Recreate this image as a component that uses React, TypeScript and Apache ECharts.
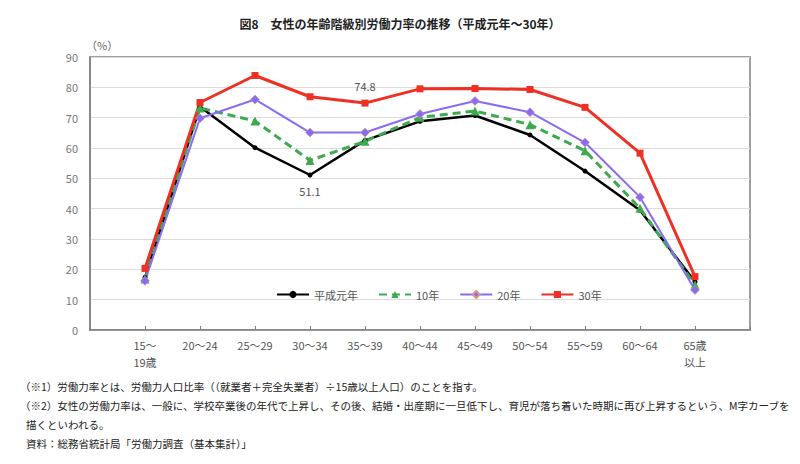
import React, { useEffect, useRef } from "react";
import * as echarts from "echarts";

const categories = ["15～\n19歳", "20～24", "25～29", "30～34", "35～39", "40～44", "45～49", "50～54", "55～59", "60～64", "65歳\n以上"];
const seriesNames = ["平成元年", "10年", "20年", "30年"];
const heisei1 = [17.3, 73.6, 60.1, 51.1, 62.5, 68.8, 70.7, 64.3, 52.4, 39.5, 15.9];
const heisei10 = [16.8, 73.2, 68.9, 55.9, 62.2, 70.1, 72.2, 67.7, 59.1, 40.1, 14.9];
const heisei20 = [16.2, 69.8, 76.0, 65.1, 65.1, 71.2, 75.5, 71.8, 61.8, 43.8, 13.2];
const heisei30 = [20.3, 75.0, 83.9, 76.9, 74.8, 79.5, 79.6, 79.3, 73.4, 58.3, 17.6];
const yTicks = [0, 10, 20, 30, 40, 50, 60, 70, 80, 90];
const footnotes = [
  "（※1）労働力率とは、労働力人口比率（（就業者＋完全失業者）÷15歳以上人口）のことを指す。",
  "（※2）女性の労働力率は、一般に、学校卒業後の年代で上昇し、その後、結婚・出産期に一旦低下し、育児が落ち着いた時期に再び上昇するという、M字カーブを",
  "描くといわれる。",
  "資料：総務省統計局「労働力調査（基本集計）」",
];
const titleText = "図8　女性の年齢階級別労働力率の推移（平成元年～30年）";

const FONT = "'Noto Sans CJK JP', 'Noto Sans', sans-serif";

function buildData(values: number[], labelIdx: number | null, pos: string) {
  const d: any[] = [null];
  values.forEach((v, i) => {
    if (i === labelIdx) {
      d.push({
        value: v,
        label: { show: true, position: pos, distance: 8, color: "#555", fontSize: 11, fontFamily: FONT, formatter: v.toFixed(1) },
      });
    } else d.push(v);
  });
  d.push(null);
  return d;
}

export default function App() {
  const ref = useRef<HTMLDivElement>(null);
  useEffect(() => {
    const chart = echarts.init(ref.current!, null, { renderer: "svg" });
    const xCats = ["", ...categories, ""];
    chart.setOption({
      animation: false,
      textStyle: { fontFamily: FONT },
      title: {
        text: titleText,
        left: "center",
        top: 12,
        textStyle: { fontSize: 12, fontWeight: "bold", color: "#222", fontFamily: FONT },
      },
      legend: {
        left: 271,
        top: 284,
        itemWidth: 32,
        itemHeight: 9,
        itemGap: 20,
        textStyle: { fontSize: 11, color: "#555", fontFamily: FONT },
        data: seriesNames,
      },
      grid: {
        left: 90,
        right: 50,
        top: 57,
        bottom: 134,
        show: true,
        borderColor: "#808080",
        borderWidth: 1.5,
      },
      xAxis: {
        type: "category",
        data: xCats,
        boundaryGap: false,
        axisLine: { lineStyle: { color: "#808080", width: 1.5 } },
        axisTick: { inside: true, length: 4, interval: 0, lineStyle: { color: "#808080" } },
        axisLabel: { interval: 0, color: "#555", fontSize: 11, margin: 6, lineHeight: 17, fontFamily: FONT },
      },
      yAxis: {
        type: "value",
        min: yTicks[0],
        max: yTicks[yTicks.length - 1],
        interval: 10,
        axisLine: { show: true, lineStyle: { color: "#808080", width: 1.5 } },
        axisTick: { show: false },
        axisLabel: { color: "#777", fontSize: 11, margin: 12, fontFamily: FONT },
        splitLine: { lineStyle: { color: "#dcdcdc", width: 1 } },
      },
      graphic: [
        { type: "text", left: 86, top: 39, style: { text: "（%）", fontSize: 11, fill: "#666", fontFamily: FONT } },
        ...footnotes.map((t, i) => ({
          type: "text",
          left: i >= 2 ? 26 : 20,
          top: 381 + i * 19,
          style: { text: t, fontSize: 10.5, fill: "#222", fontFamily: FONT },
        })),
      ],
      series: [
        {
          name: seriesNames[0],
          type: "line",
          data: buildData(heisei1, 3, "bottom"),
          symbol: "circle",
          symbolSize: 5,
          lineStyle: { color: "#000", width: 2.5 },
          itemStyle: { color: "#000" },
        },
        {
          name: seriesNames[1],
          type: "line",
          data: buildData(heisei10, null, "top"),
          symbol: "triangle",
          symbolSize: 9,
          lineStyle: { color: "#3daa4f", width: 3, type: [8, 5] },
          itemStyle: { color: "#3daa4f" },
        },
        {
          name: seriesNames[2],
          type: "line",
          data: buildData(heisei20, null, "top"),
          symbol: "diamond",
          symbolSize: 9,
          lineStyle: { color: "#8a6cf2", width: 2 },
          itemStyle: { color: "#8a6cf2", borderColor: "#d59a8a", borderWidth: 0.6 },
        },
        {
          name: seriesNames[3],
          type: "line",
          data: buildData(heisei30, 4, "top"),
          symbol: "rect",
          symbolSize: 7,
          lineStyle: { color: "#ee3124", width: 3 },
          itemStyle: { color: "#ee3124" },
        },
      ],
    });
    return () => chart.dispose();
  }, []);
  return (
    <div
      ref={ref}
      style={{ position: "fixed", left: 0, top: 0, width: 800, height: 464, background: "#fff" }}
    />
  );
}
